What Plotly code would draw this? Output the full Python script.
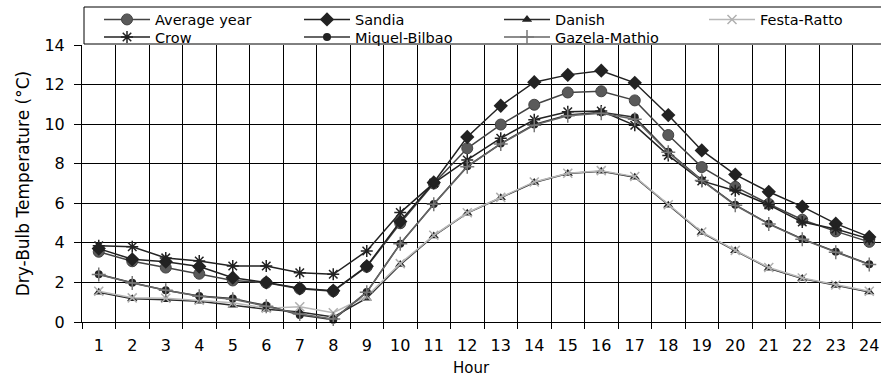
import plotly.graph_objects as go

hours = list(range(1, 25))
tick_labels = [str(h) for h in hours]

average_year = [3.55, 3.07, 2.75, 2.44, 2.10, 1.98, 1.68, 1.56, 2.79, 4.99, 7.00, 8.78,
                9.98, 10.98, 11.60, 11.66, 11.20, 9.45, 7.83, 6.83, 5.97, 5.17, 4.58, 4.05]
sandia = [3.71, 3.17, 3.05, 2.80, 2.24, 2.00, 1.70, 1.58, 2.82, 5.08, 7.05, 9.35,
          10.93, 12.12, 12.49, 12.70, 12.09, 10.46, 8.67, 7.45, 6.58, 5.83, 4.97, 4.30]
danish = [1.50, 1.17, 1.12, 1.05, 0.85, 0.65, 0.50, 0.25, 1.20, 2.90, 4.35, 5.50,
          6.28, 7.05, 7.50, 7.62, 7.32, 5.90, 4.52, 3.60, 2.72, 2.20, 1.85, 1.52]
festa_ratto = [1.55, 1.22, 1.20, 1.10, 0.97, 0.70, 0.77, 0.47, 1.30, 2.95, 4.38, 5.52,
               6.30, 7.08, 7.52, 7.65, 7.35, 5.93, 4.55, 3.62, 2.75, 2.22, 1.87, 1.55]
crow = [3.85, 3.80, 3.24, 3.08, 2.83, 2.83, 2.49, 2.41, 3.59, 5.53, 7.02, 8.19,
        9.29, 10.22, 10.63, 10.66, 9.94, 8.42, 7.13, 6.63, 5.92, 5.05, 4.70, 4.20]
miquel_bilbao = [2.41, 1.98, 1.61, 1.31, 1.19, 0.83, 0.35, 0.12, 1.51, 3.96, 5.96, 7.87,
                 9.02, 9.98, 10.46, 10.60, 10.35, 8.60, 7.17, 5.92, 4.97, 4.20, 3.55, 2.92]
gazela_mathio = [2.40, 1.97, 1.60, 1.30, 1.15, 0.80, 0.40, 0.15, 1.50, 3.95, 5.95, 7.85,
                 9.00, 9.95, 10.42, 10.55, 10.25, 8.58, 7.15, 5.90, 4.95, 4.18, 3.53, 2.90]

series = [
    ("Average year", average_year, "#444444", dict(symbol="circle", size=11, color="#5a5a5a", line=dict(color="#444444", width=1)), "legend"),
    ("Sandia", sandia, "#222222", dict(symbol="diamond", size=11, color="#222222"), "legend"),
    ("Danish", danish, "#2a2a2a", dict(symbol="triangle-up", size=9, color="#222222"), "legend"),
    ("Festa-Ratto", festa_ratto, "#b8b8b8", dict(symbol="x-thin-open", size=9, color="#b0b0b0", line=dict(color="#b0b0b0", width=1.5)), "legend3"),
    ("Crow", crow, "#222222", dict(symbol="asterisk-open", size=10, color="#222222", line=dict(color="#222222", width=1.5)), "legend2"),
    ("Miquel-Bilbao", miquel_bilbao, "#333333", dict(symbol="circle", size=8, color="#222222"), "legend2"),
    ("Gazela-Mathio", gazela_mathio, "#666666", dict(symbol="cross-thin-open", size=10, color="#777777", line=dict(color="#777777", width=1.5)), "legend2"),
]

fig = go.Figure()
for name, vals, lc, mk, lg in series:
    fig.add_trace(go.Scatter(x=hours, y=vals, name=name, mode="lines+markers",
                             line=dict(color=lc, width=1.5), marker=mk, cliponaxis=False,
                             legend=lg))

W, H = 881, 385
ml, mr, mt, mb = 82, 0, 45, 63
pw = W - ml - mr
ph = H - mt - mb

def px_x(p):
    return (p - ml) / pw

def px_y(p):
    return (H - mb - p) / ph

font = "DejaVu Sans, Liberation Sans, Arial, sans-serif"
leg_font = dict(size=14.5, family=font, color="black")

def leg(x_left, y_mid, ew=139):
    return dict(orientation="h", x=px_x(x_left), xanchor="left", y=px_y(y_mid), yanchor="middle",
                entrywidth=ew, entrywidthmode="pixels", bgcolor="rgba(0,0,0,0)",
                borderwidth=0, font=leg_font, itemwidth=46, traceorder="normal")

fig.update_layout(
    width=W, height=H,
    margin=dict(l=ml, r=mr, t=mt, b=mb, pad=0, autoexpand=False),
    paper_bgcolor="white", plot_bgcolor="white",
    font=dict(family=font, size=15, color="black"),
    showlegend=True,
    legend=leg(99, 19.5),
    legend2=leg(99, 37),
    legend3=leg(704, 19.5, ew=90),
    xaxis=dict(range=[0.5, 24.35], tickmode="array", tickvals=hours, ticktext=tick_labels,
               showgrid=False, zeroline=False, showline=True, linecolor="black", linewidth=1,
               ticks="", ticklabelstandoff=9, tickfont=dict(size=16),
               minor=dict(tick0=0.5, dtick=1, showgrid=True, gridcolor="black", gridwidth=1,
                          ticks="outside", ticklen=6, tickcolor="black", tickwidth=1)),
    yaxis=dict(range=[0, 14], tickmode="array", tickvals=[0, 2, 4, 6, 8, 10, 12, 14],
               showgrid=True, gridcolor="black", gridwidth=1, zeroline=False,
               showline=True, linecolor="black", linewidth=1, tickfont=dict(size=16),
               ticks="outside", ticklen=7, tickcolor="black", ticklabelstandoff=6,
               title=dict(text="Dry-Bulb Temperature (°C)", standoff=10, font=dict(size=17))),
    shapes=[dict(type="rect", xref="paper", yref="paper",
                 x0=px_x(84), x1=1.05, y0=px_y(44), y1=px_y(7),
                 line=dict(color="black", width=1), fillcolor="rgba(0,0,0,0)", layer="above")],
    annotations=[dict(text="Hour", xref="paper", yref="paper", x=px_x(471), y=px_y(368),
                      xanchor="center", yanchor="middle", showarrow=False, font=dict(size=15))],
)

fig.write_html("out.html")
